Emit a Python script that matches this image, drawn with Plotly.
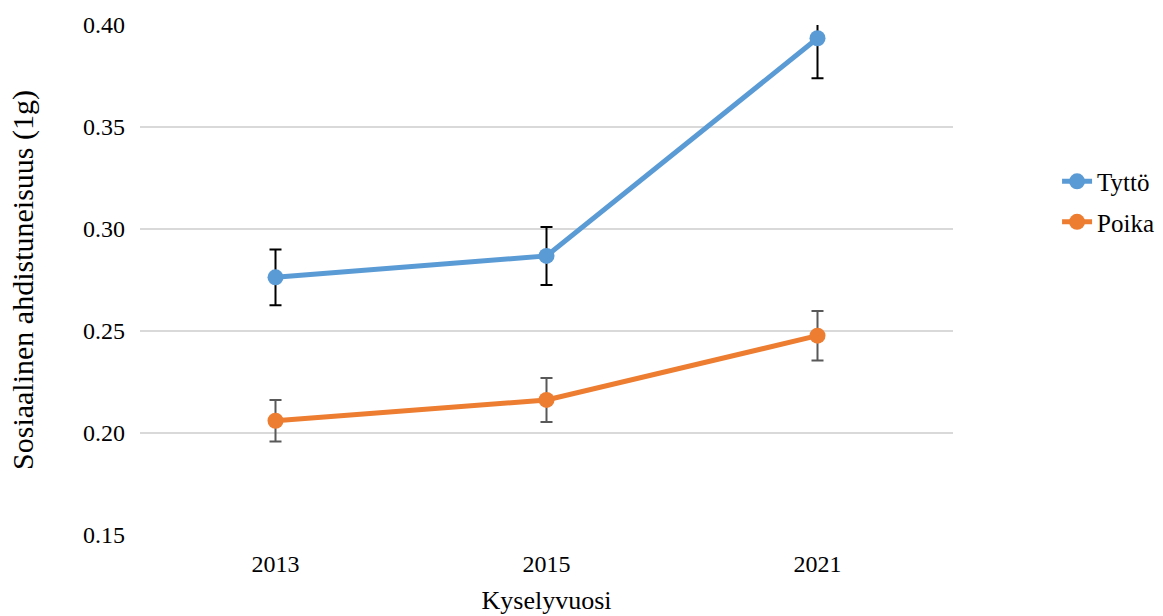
import plotly.graph_objects as go

# Survey years (category axis)
years = ["2013", "2015", "2021"]

# Mean social anxiety by gender, with error margins
tytto_mean = [0.2763, 0.2868, 0.3935]
tytto_err = [0.0137, 0.0142, 0.0196]

poika_mean = [0.2060, 0.2162, 0.2477]
poika_err = [0.0102, 0.0108, 0.0121]

y_ticks = [0.15, 0.20, 0.25, 0.30, 0.35, 0.40]

FONT = "Liberation Serif"
BLUE = "#5B9BD5"
ORANGE = "#ED7D31"

fig = go.Figure()

fig.add_trace(go.Scatter(
    x=years, y=tytto_mean, name="Tyttö", legendgroup="t",
    mode="lines+markers",
    line=dict(color=BLUE, width=5),
    marker=dict(color=BLUE, size=16),
    error_y=dict(type="data", array=tytto_err, visible=True,
                 color="#000000", thickness=2, width=6),
))

fig.add_trace(go.Scatter(
    x=years, y=poika_mean, name="Poika", legendgroup="p",
    mode="lines+markers",
    line=dict(color=ORANGE, width=5),
    marker=dict(color=ORANGE, size=16),
    error_y=dict(type="data", array=poika_err, visible=True,
                 color="#595959", thickness=2, width=6),
))

fig.update_layout(
    width=1163, height=616,
    margin=dict(l=140, r=210, t=25, b=81, autoexpand=False),
    paper_bgcolor="white", plot_bgcolor="white",
    font=dict(family=FONT, size=24, color="#000000"),
    showlegend=True,
    legend=dict(
        x=1.128, y=0.738, xanchor="left", yanchor="top",
        font=dict(family=FONT, size=25, color="#000000"),
        traceorder="grouped", tracegroupgap=5,
        bgcolor="rgba(0,0,0,0)",
    ),
)

fig.update_xaxes(
    type="category", range=[-0.5, 2.5], automargin=False,
    showgrid=False, showline=False, zeroline=False,
    ticks="", ticklabelstandoff=12,
    tickfont=dict(family=FONT, size=24),
    title=dict(text="Kyselyvuosi", font=dict(family=FONT, size=26), standoff=14),
)

fig.update_yaxes(
    range=[0.15, 0.40], tickvals=y_ticks, tickformat=".2f", automargin=False,
    showgrid=True, gridcolor="#D9D9D9", gridwidth=1.5,
    showline=False, zeroline=False,
    ticks="", ticklabelstandoff=14,
    tickfont=dict(family=FONT, size=24),
    title=dict(text="Sosiaalinen ahdistuneisuus (1g)", font=dict(family=FONT, size=30), standoff=40),
)

fig.write_html("out.html")
